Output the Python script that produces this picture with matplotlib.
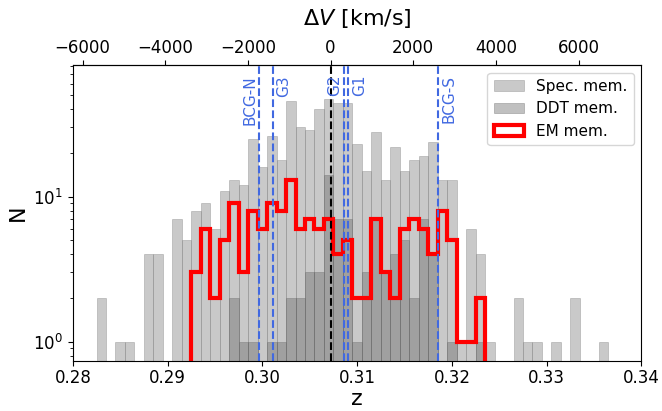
import numpy as np
import matplotlib.pyplot as plt

# Redshift binning (0.001 wide bins)
z_start = 0.2825
bin_width = 0.001
n_bins = 54

# Counts per bin
spec_counts = [2, 0, 1, 1, 0, 4, 4, 0, 7, 5,
               8, 9, 6, 11, 13, 12, 25, 16, 26, 18,
               46, 30, 29, 40, 47, 44, 44, 23, 15, 28,
               13, 22, 15, 18, 19, 24, 13, 13, 1, 6,
               4, 1, 0, 0, 2, 1, 1, 0, 1, 0,
               2, 0, 0, 1]
ddt_counts = [0, 0, 0, 0, 0, 0, 0, 0, 0, 0,
              0, 0, 0, 0, 2, 1, 1, 0, 1, 1,
              2, 2, 3, 3, 14, 7, 7, 1, 3, 7,
              3, 4, 5, 2, 7, 4, 0, 1, 0, 0,
              1, 0, 0, 0, 0, 0, 0, 0, 0, 0,
              0, 0, 0, 0]
em_counts = [0, 0, 0, 0, 0, 0, 0, 0, 0, 0,
             3, 6, 2, 5, 9, 3, 8, 6, 9, 8,
             13, 6, 7, 6, 7, 4, 5, 2, 2, 7,
             3, 2, 6, 7, 6, 4, 8, 5, 1, 1,
             2, 0, 0, 0, 0, 0, 0, 0, 0, 0,
             0, 0, 0, 0]

# Cluster redshift and substructure positions
z_cl = 0.3072
group_names = ["BCG-N", "G3", "G2", "G1", "BCG-S"]
group_z = [0.29968, 0.30108, 0.30862, 0.30907, 0.31850]
label_side = ["left", "right", "left", "right", "right"]

c_kms = 299792.458

edges = z_start + bin_width * np.arange(n_bins + 1)
centers = 0.5 * (edges[:-1] + edges[1:])

fig = plt.figure(figsize=(6.62, 4.11), dpi=100)
ax = fig.add_axes([0.11, 0.122, 0.859, 0.720])

ax.hist(centers, bins=edges, weights=spec_counts, color="gray", alpha=0.42,
        edgecolor="gray", linewidth=0.6, label="Spec. mem.")
ax.hist(centers, bins=edges, weights=ddt_counts, color="dimgray", alpha=0.42,
        edgecolor="dimgray", linewidth=0.6, label="DDT mem.")
ax.hist(centers, bins=edges, weights=em_counts, histtype="step", color="red",
        linewidth=3, label="EM mem.")

ax.set_yscale("log")
ax.set_xlim(0.28, 0.34)
ax.set_ylim(0.736, 81)

ax.axvline(z_cl, color="black", linestyle="--", linewidth=1.5)
trans = ax.get_xaxis_transform()
for name, zg, side in zip(group_names, group_z, label_side):
    ax.axvline(zg, color="royalblue", linestyle="--", linewidth=1.5)
    if side == "left":
        ax.text(zg - 0.0002, 0.966, name, rotation=90, ha="right", va="top",
                color="royalblue", fontsize=11, transform=trans)
    else:
        ax.text(zg + 0.0004, 0.966, name, rotation=90, ha="left", va="top",
                color="royalblue", fontsize=11, transform=trans)

ax.set_xlabel("z", fontsize=16, labelpad=1)
ax.set_ylabel("N", fontsize=16)
ax.tick_params(labelsize=12)
ax.tick_params(axis="x", pad=2.5)
ax.set_xticks(np.arange(0.28, 0.3401, 0.01))


def z_to_v(z):
    return c_kms * (z - z_cl) / (1 + z_cl)


def v_to_z(v):
    return z_cl + v * (1 + z_cl) / c_kms


top = ax.secondary_xaxis("top", functions=(z_to_v, v_to_z))
top.set_xticks(np.arange(-6000, 6001, 2000))
top.tick_params(labelsize=12, pad=2.5)
top.set_xlabel(r"$\Delta V$ [km/s]", fontsize=16, labelpad=10)

ax.legend(loc="upper right", fontsize=11)

fig.savefig("out.png", dpi=100)
